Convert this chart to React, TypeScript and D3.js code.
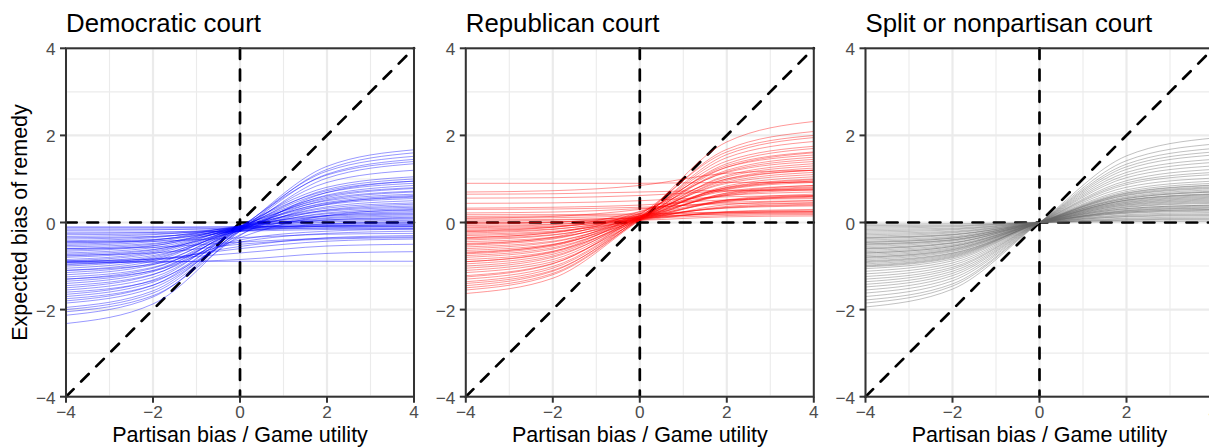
import * as d3 from 'd3';

const XS = [-4, -2, 0, 2, 4];
const TICKS = [-4, -2, 0, 2, 4];
const MINOR = [-3, -1, 1, 3];
const PANEL_TITLES = ['Democratic court', 'Republican court', 'Split or nonpartisan court'];
const X_TITLE = 'Partisan bias / Game utility';
const Y_TITLE = 'Expected bias of remedy';

// each row: expected bias at x = -4, -2, 0, 2, 4
const demCurves = [
  [-2.32, -1.87, -0.2, 1.22, 1.6],
  [-2.13, -1.71, -0.15, 1.29, 1.67],
  [-2.0, -1.62, -0.18, 1.11, 1.45],
  [-1.95, -1.57, -0.12, 1.18, 1.52],
  [-1.85, -1.5, -0.2, 1.02, 1.35],
  [-1.8, -1.44, -0.1, 1.09, 1.4],
  [-1.7, -1.37, -0.15, 0.92, 1.2],
  [-1.65, -1.32, -0.1, 0.81, 1.05],
  [-1.55, -1.26, -0.15, 0.76, 1.0],
  [-1.5, -1.2, -0.08, 0.73, 0.95],
  [-1.45, -1.19, -0.2, 0.63, 0.85],
  [-1.4, -1.13, -0.12, 0.69, 0.9],
  [-1.35, -1.1, -0.15, 0.58, 0.78],
  [-1.3, -1.05, -0.1, 0.61, 0.8],
  [-1.25, -1.03, -0.18, 0.52, 0.7],
  [-1.2, -0.97, -0.1, 0.55, 0.72],
  [-1.15, -0.94, -0.15, 0.46, 0.62],
  [-1.1, -0.89, -0.08, 0.5, 0.65],
  [-1.05, -0.85, -0.12, 0.41, 0.55],
  [-1.0, -0.82, -0.15, 0.36, 0.5],
  [-0.97, -0.79, -0.1, 0.44, 0.58],
  [-0.92, -0.76, -0.18, 0.29, 0.42],
  [-0.88, -0.72, -0.12, 0.33, 0.45],
  [-0.85, -0.69, -0.08, 0.28, 0.38],
  [-0.8, -0.66, -0.15, 0.22, 0.32],
  [-0.77, -0.63, -0.1, 0.26, 0.35],
  [-0.73, -0.62, -0.2, 0.16, 0.25],
  [-0.7, -0.58, -0.12, 0.2, 0.28],
  [-0.66, -0.54, -0.08, 0.16, 0.22],
  [-0.63, -0.53, -0.15, 0.11, 0.18],
  [-0.6, -0.5, -0.1, 0.14, 0.2],
  [-0.56, -0.48, -0.18, 0.06, 0.12],
  [-0.53, -0.44, -0.12, 0.09, 0.15],
  [-0.5, -0.41, -0.08, 0.06, 0.1],
  [-0.47, -0.4, -0.15, 0.01, 0.05],
  [-0.44, -0.39, -0.2, -0.03, 0.02],
  [-0.42, -0.35, -0.1, 0.04, 0.08],
  [-0.38, -0.33, -0.15, -0.05, -0.02],
  [-0.35, -0.32, -0.2, -0.08, -0.05],
  [-0.32, -0.28, -0.12, -0.03, 0.0],
  [-0.28, -0.26, -0.18, -0.12, -0.1],
  [-0.25, -0.23, -0.15, -0.09, -0.08],
  [-0.22, -0.22, -0.2, -0.16, -0.15],
  [-0.18, -0.17, -0.12, -0.07, -0.05],
  [-0.15, -0.15, -0.15, -0.14, -0.14],
  [-0.12, -0.12, -0.1, -0.08, -0.08],
  [-0.1, -0.1, -0.1, -0.1, -0.1],
  [-0.95, -0.87, -0.55, -0.35, -0.3],
  [-0.9, -0.84, -0.6, -0.43, -0.38],
  [-0.88, -0.84, -0.7, -0.54, -0.5],
  [-0.92, -0.91, -0.85, -0.71, -0.67],
  [-0.9, -0.9, -0.89, -0.89, -0.89],
  [-0.75, -0.7, -0.5, -0.38, -0.35],
  [-0.6, -0.57, -0.45, -0.36, -0.33],
  [-1.1, -0.96, -0.45, -0.25, -0.2],
  [-1.3, -1.11, -0.4, -0.2, -0.15],
  [-1.6, -1.34, -0.35, 0.16, 0.3],
  [-2.05, -1.68, -0.3, 0.69, 0.95],
  [-1.75, -1.44, -0.28, 0.42, 0.6],
  [-0.45, -0.43, -0.35, -0.27, -0.25],
];

const repCurves = [
  [-1.63, -1.28, 0.05, 1.35, 1.7],
  [-1.55, -1.2, 0.1, 1.85, 2.32],
  [-1.5, -1.17, 0.08, 1.56, 1.95],
  [-1.45, -1.12, 0.12, 1.68, 2.09],
  [-1.4, -1.1, 0.05, 1.27, 1.6],
  [-1.36, -1.05, 0.1, 1.49, 1.86],
  [-1.3, -1.01, 0.08, 1.2, 1.5],
  [-1.22, -0.94, 0.12, 1.41, 1.75],
  [-1.15, -0.9, 0.05, 1.08, 1.35],
  [-1.1, -0.85, 0.1, 1.17, 1.45],
  [-1.05, -0.8, 0.15, 1.31, 1.62],
  [-1.0, -0.77, 0.08, 1.0, 1.25],
  [-0.95, -0.73, 0.12, 1.05, 1.3],
  [-0.9, -0.69, 0.1, 0.97, 1.2],
  [-0.85, -0.66, 0.05, 0.84, 1.05],
  [-0.8, -0.61, 0.12, 0.93, 1.15],
  [-0.76, -0.58, 0.08, 0.81, 1.0],
  [-0.72, -0.54, 0.15, 0.9, 1.1],
  [-0.68, -0.52, 0.1, 0.77, 0.95],
  [-0.64, -0.5, 0.05, 0.68, 0.85],
  [-0.6, -0.45, 0.12, 0.8, 0.98],
  [-0.56, -0.43, 0.08, 0.65, 0.8],
  [-0.52, -0.38, 0.15, 0.76, 0.92],
  [-0.48, -0.36, 0.1, 0.64, 0.78],
  [-0.44, -0.34, 0.05, 0.52, 0.65],
  [-0.4, -0.29, 0.12, 0.67, 0.82],
  [-0.37, -0.28, 0.08, 0.49, 0.6],
  [-0.34, -0.24, 0.15, 0.62, 0.75],
  [-0.3, -0.22, 0.1, 0.51, 0.62],
  [-0.27, -0.2, 0.05, 0.41, 0.5],
  [-0.24, -0.16, 0.12, 0.48, 0.58],
  [-0.21, -0.15, 0.08, 0.37, 0.45],
  [-0.18, -0.11, 0.15, 0.51, 0.6],
  [-0.15, -0.1, 0.1, 0.35, 0.42],
  [-0.12, -0.08, 0.05, 0.25, 0.3],
  [-0.1, -0.05, 0.12, 0.34, 0.4],
  [-0.07, -0.04, 0.08, 0.24, 0.28],
  [-0.04, 0.0, 0.15, 0.33, 0.38],
  [-0.02, 0.01, 0.1, 0.22, 0.25],
  [0.0, 0.01, 0.05, 0.13, 0.15],
  [0.03, 0.05, 0.12, 0.2, 0.22],
  [0.06, 0.07, 0.1, 0.16, 0.18],
  [0.1, 0.11, 0.15, 0.19, 0.2],
  [0.14, 0.15, 0.18, 0.23, 0.24],
  [0.18, 0.18, 0.2, 0.24, 0.25],
  [0.9, 0.9, 0.9, 0.92, 0.92],
  [0.7, 0.73, 0.85, 1.13, 1.2],
  [0.56, 0.57, 0.62, 0.72, 0.75],
  [0.44, 0.45, 0.5, 0.59, 0.62],
  [0.33, 0.35, 0.4, 0.52, 0.55],
  [0.22, 0.24, 0.32, 0.46, 0.5],
  [0.65, 0.66, 0.7, 0.74, 0.75],
  [0.3, 0.31, 0.35, 0.43, 0.45],
  [-0.9, -0.67, 0.2, 1.27, 1.55],
  [-1.25, -0.95, 0.18, 1.62, 2.0],
  [-0.7, -0.51, 0.22, 1.15, 1.4],
  [-0.5, -0.34, 0.25, 1.0, 1.2],
  [-0.35, -0.23, 0.2, 0.79, 0.95],
  [0.1, 0.14, 0.3, 0.62, 0.7],
  [-0.2, -0.11, 0.25, 0.72, 0.85],
];

const splitCurves = [
  [-1.94, -1.53, 0, 1.53, 1.94],
  [-1.85, -1.46, 0, 1.42, 1.8],
  [-1.78, -1.41, 0, 1.34, 1.7],
  [-1.7, -1.34, 0, 1.28, 1.62],
  [-1.62, -1.28, 0, 1.22, 1.55],
  [-1.55, -1.22, 0, 1.15, 1.45],
  [-1.48, -1.17, 0, 1.09, 1.38],
  [-1.42, -1.12, 0, 1.03, 1.3],
  [-1.36, -1.07, 0, 0.96, 1.22],
  [-1.3, -1.03, 0, 0.91, 1.15],
  [-1.24, -0.98, 0, 0.87, 1.1],
  [-1.18, -0.93, 0, 0.81, 1.02],
  [-1.12, -0.88, 0, 0.75, 0.95],
  [-1.06, -0.84, 0, 0.71, 0.9],
  [-1.02, -0.81, 0, 0.68, 0.86],
  [-0.98, -0.77, 0, 0.65, 0.82],
  [-0.95, -0.75, 0, 0.63, 0.8],
  [-0.92, -0.73, 0, 0.62, 0.78],
  [-0.88, -0.7, 0, 0.59, 0.75],
  [-0.85, -0.67, 0, 0.57, 0.72],
  [-0.82, -0.65, 0, 0.55, 0.7],
  [-0.79, -0.62, 0, 0.52, 0.66],
  [-0.76, -0.6, 0, 0.51, 0.64],
  [-0.73, -0.58, 0, 0.49, 0.62],
  [-0.7, -0.55, 0, 0.46, 0.58],
  [-0.67, -0.53, 0, 0.44, 0.56],
  [-0.64, -0.51, 0, 0.43, 0.54],
  [-0.61, -0.48, 0, 0.4, 0.5],
  [-0.58, -0.46, 0, 0.38, 0.48],
  [-0.55, -0.43, 0, 0.36, 0.46],
  [-0.52, -0.41, 0, 0.35, 0.44],
  [-0.49, -0.39, 0, 0.32, 0.4],
  [-0.46, -0.36, 0, 0.3, 0.38],
  [-0.43, -0.34, 0, 0.28, 0.36],
  [-0.4, -0.32, 0, 0.26, 0.33],
  [-0.37, -0.29, 0, 0.24, 0.3],
  [-0.34, -0.27, 0, 0.22, 0.28],
  [-0.31, -0.24, 0, 0.21, 0.26],
  [-0.28, -0.22, 0, 0.18, 0.23],
  [-0.25, -0.2, 0, 0.16, 0.2],
  [-0.22, -0.17, 0, 0.14, 0.18],
  [-0.19, -0.15, 0, 0.13, 0.16],
  [-0.16, -0.13, 0, 0.1, 0.13],
  [-0.13, -0.1, 0, 0.08, 0.1],
  [-0.1, -0.08, 0, 0.06, 0.08],
  [-0.07, -0.06, 0, 0.05, 0.06],
  [-0.04, -0.03, 0, 0.02, 0.03],
  [-1.0, -0.79, 0, 0.55, 0.7],
  [-0.9, -0.71, 0, 0.67, 0.85],
  [-0.8, -0.63, 0, 0.47, 0.6],
  [-0.7, -0.55, 0, 0.51, 0.65],
  [-0.6, -0.47, 0, 0.32, 0.4],
  [-0.5, -0.4, 0, 0.41, 0.52],
  [-0.45, -0.36, 0, 0.24, 0.3],
  [-0.35, -0.28, 0, 0.27, 0.34],
];

const PANEL_CURVES = [demCurves, repCurves, splitCurves];
const PANEL_COLORS = ['#0000ff', '#ff0000', '#666666'];

// layout (px)
const W = 1209;
const H = 447;
const PANEL_LEFTS = [66, 465.8, 865.5];
const PW = 348;
const TOP = 48.3;
const BOTTOM = 396.7;
const FONT = "'Liberation Sans', Arial, Helvetica, sans-serif";
const fmt = d3.format('d');

function Panel({ idx }: { idx: number }) {
  const left = PANEL_LEFTS[idx];
  const x = d3.scaleLinear().domain([-4, 4]).range([left, left + PW]);
  const y = d3.scaleLinear().domain([-4, 4]).range([BOTTOM, TOP]);
  const line = d3
    .line<number>()
    .x((_, i) => x(XS[i]))
    .y((d) => y(d))
    .curve(d3.curveMonotoneX);
  const dash = { stroke: '#000', strokeWidth: 2.7, strokeDasharray: '10.7 10.7', strokeLinecap: 'round' as const, fill: 'none' };

  return (
    <g>
      {/* grid */}
      {MINOR.map((t) => (
        <g key={'m' + t}>
          <line x1={x(t)} x2={x(t)} y1={TOP} y2={BOTTOM} stroke="#ebebeb" strokeWidth={1.1} />
          <line x1={left} x2={left + PW} y1={y(t)} y2={y(t)} stroke="#ebebeb" strokeWidth={1.1} />
        </g>
      ))}
      {TICKS.map((t) => (
        <g key={'M' + t}>
          <line x1={x(t)} x2={x(t)} y1={TOP} y2={BOTTOM} stroke="#ebebeb" strokeWidth={2.2} />
          <line x1={left} x2={left + PW} y1={y(t)} y2={y(t)} stroke="#ebebeb" strokeWidth={2.2} />
        </g>
      ))}

      {/* reference lines */}
      <line x1={left} x2={left + PW} y1={y(0)} y2={y(0)} style={dash} />
      <line x1={x(0)} x2={x(0)} y1={TOP} y2={BOTTOM} style={dash} />
      <line x1={x(-4)} x2={x(4)} y1={y(-4)} y2={y(4)} style={dash} />

      {/* curves */}
      {PANEL_CURVES[idx].map((c, i) => (
        <path key={i} d={line(c) ?? ''} fill="none" stroke={PANEL_COLORS[idx]} strokeOpacity={0.45} strokeWidth={0.9} />
      ))}

      {/* border */}
      <rect x={left} y={TOP} width={PW} height={BOTTOM - TOP} fill="none" stroke="#333" strokeWidth={2} />

      {/* y ticks */}
      {TICKS.map((t) => (
        <g key={'yt' + t}>
          <line x1={left - 6} x2={left} y1={y(t)} y2={y(t)} stroke="#333" strokeWidth={2} />
          <text x={left - 10.5} y={y(t) + 7} textAnchor="end" fontSize={17.2} fill="#4d4d4d" fontFamily={FONT}>
            {fmt(t)}
          </text>
        </g>
      ))}
      {/* x ticks */}
      {TICKS.map((t) => (
        <g key={'xt' + t}>
          <line x1={x(t)} x2={x(t)} y1={BOTTOM} y2={BOTTOM + 6} stroke="#333" strokeWidth={2} />
          <text x={x(t)} y={BOTTOM + 21} textAnchor="middle" fontSize={17.2} fill="#4d4d4d" fontFamily={FONT}>
            {fmt(t)}
          </text>
        </g>
      ))}

      <text x={left} y={32} fontSize={25.8} fill="#000" fontFamily={FONT}>
        {PANEL_TITLES[idx]}
      </text>
      <text x={left + PW / 2} y={442} textAnchor="middle" fontSize={21.5} fill="#000" fontFamily={FONT}>
        {X_TITLE}
      </text>
    </g>
  );
}

export default function App() {
  return (
    <svg
      width={W}
      height={H}
      viewBox={`0 0 ${W} ${H}`}
      style={{ position: 'absolute', left: 0, top: 0, display: 'block', background: '#fff' }}
    >
      <rect width={W} height={H} fill="#fff" />
      {PANEL_TITLES.map((_, i) => (
        <Panel key={i} idx={i} />
      ))}
      <text
        transform={`translate(27, ${(TOP + BOTTOM) / 2}) rotate(-90)`}
        textAnchor="middle"
        fontSize={21.5}
        fill="#000"
        fontFamily={FONT}
      >
        {Y_TITLE}
      </text>
    </svg>
  );
}
